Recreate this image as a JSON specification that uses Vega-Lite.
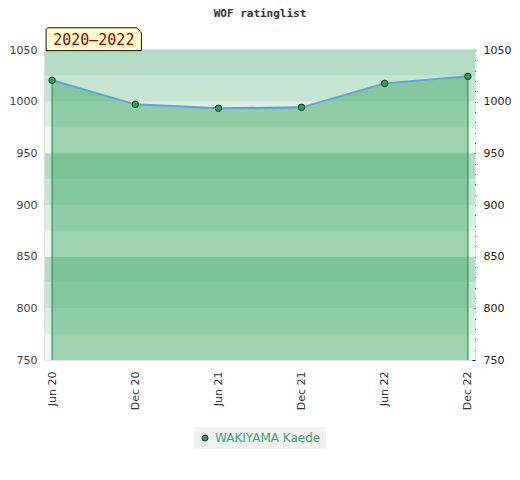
{
  "$schema": "https://vega.github.io/schema/vega-lite/v6.json",
  "width": 430,
  "height": 310,
  "autosize": {"type": "none"},
  "padding": {"left": 45, "top": 50, "right": 45, "bottom": 120},
  "background": "white",
  "title": {
    "text": "WOF ratinglist",
    "font": "DejaVu Sans Mono",
    "fontSize": 11,
    "fontWeight": "bold",
    "color": "#333333",
    "anchor": "middle",
    "offset": 7
  },
  "config": {
    "view": {"stroke": "#d6d6d6", "strokeWidth": 1.5},
    "axis": {"labelFont": "DejaVu Sans", "labelFontSize": 11, "grid": false, "domain": false, "title": null}
  },
  "datasets": {
    "bands": [
      {"lo": 750, "hi": 775, "shade": "a"},
      {"lo": 775, "hi": 800, "shade": "b"},
      {"lo": 800, "hi": 825, "shade": "c"},
      {"lo": 825, "hi": 850, "shade": "d"},
      {"lo": 850, "hi": 875, "shade": "a"},
      {"lo": 875, "hi": 900, "shade": "b"},
      {"lo": 900, "hi": 925, "shade": "c"},
      {"lo": 925, "hi": 950, "shade": "d"},
      {"lo": 950, "hi": 975, "shade": "a"},
      {"lo": 975, "hi": 1000, "shade": "b"},
      {"lo": 1000, "hi": 1025, "shade": "c"},
      {"lo": 1025, "hi": 1050, "shade": "d"}
    ],
    "ratings": [
      {"period": "Jun 20", "rating": 1020.7, "player": "WAKIYAMA Kaede"},
      {"period": "Dec 20", "rating": 997.4, "player": "WAKIYAMA Kaede"},
      {"period": "Jun 21", "rating": 993.6, "player": "WAKIYAMA Kaede"},
      {"period": "Dec 21", "rating": 994.5, "player": "WAKIYAMA Kaede"},
      {"period": "Jun 22", "rating": 1017.7, "player": "WAKIYAMA Kaede"},
      {"period": "Dec 22", "rating": 1024.5, "player": "WAKIYAMA Kaede"}
    ],
    "span": [
      {"label": "2020\u20132022"}
    ]
  },
  "resolve": {"axis": {"y": "independent"}, "scale": {"color": "independent"}},
  "layer": [
    {
      "data": {"name": "bands"},
      "mark": {"type": "rect"},
      "encoding": {
        "y": {"field": "lo", "type": "quantitative", "scale": {"domain": [750, 1050], "nice": false, "zero": false},
          "axis": {"orient": "left", "values": [750, 800, 850, 900, 950, 1000, 1050], "format": "d", "ticks": false, "labelPadding": 8, "labelColor": "#444444"}},
        "y2": {"field": "hi"},
        "color": {"field": "shade", "type": "nominal", "legend": null,
          "scale": {"domain": ["a", "b", "c", "d"], "range": ["#eff8f2", "#dcefe3", "#c7e5d3", "#b4dcc4"]}}
      }
    },
    {
      "data": {"name": "ratings"},
      "mark": {"type": "area", "color": "#37a65d", "opacity": 0.46, "clip": true},
      "encoding": {
        "x": {"field": "period", "type": "ordinal", "sort": null,
          "scale": {"type": "point", "padding": 0.085},
          "axis": {"labelAngle": 270, "ticks": false, "labelPadding": 11, "labelColor": "#333333"}},
        "y": {"field": "rating", "type": "quantitative",
          "axis": {"orient": "right", "values": [750, 760, 770, 780, 790, 800, 810, 820, 830, 840, 850, 860, 870, 880, 890, 900, 910, 920, 930, 940, 950, 960, 970, 980, 990, 1000, 1010, 1020, 1030, 1040, 1050],
            "format": "d", "offset": -3,
            "labelExpr": "datum.value % 50 === 0 ? datum.label : ''", "tickSize": 3, "tickWidth": 1, "tickColor": "#111111", "labelPadding": 8, "labelColor": "#222222"}},
        "y2": {"datum": 750}
      }
    },
    {
      "data": {"name": "ratings"},
      "transform": [{"filter": "datum.period === 'Jun 20' || datum.period === 'Dec 22'"}],
      "mark": {"type": "rule", "color": "#3a9a5c", "strokeWidth": 1.3},
      "encoding": {
        "x": {"field": "period", "type": "ordinal", "sort": null},
        "y": {"field": "rating", "type": "quantitative", "axis": null},
        "y2": {"datum": 750}
      }
    },
    {
      "data": {"name": "ratings"},
      "mark": {"type": "line", "color": "#5fa2dc", "strokeWidth": 2},
      "encoding": {
        "x": {"field": "period", "type": "ordinal", "sort": null},
        "y": {"field": "rating", "type": "quantitative", "axis": null}
      }
    },
    {
      "data": {"name": "ratings"},
      "mark": {"type": "point", "filled": true, "opacity": 1, "size": 42, "stroke": "#1a3a22", "strokeWidth": 1},
      "encoding": {
        "x": {"field": "period", "type": "ordinal", "sort": null},
        "y": {"field": "rating", "type": "quantitative", "axis": null},
        "color": {"field": "player", "type": "nominal",
          "scale": {"domain": ["WAKIYAMA Kaede"], "range": ["#2e9e5b"]},
          "legend": {"title": null, "orient": "none", "legendX": 149, "legendY": 377, "fillColor": "#f0f0f0", "padding": 5,
            "labelColor": "#3aa865", "labelFont": "DejaVu Sans", "labelFontSize": 12, "symbolSize": 36,
            "symbolStrokeColor": "#1a3a22", "symbolStrokeWidth": 1, "symbolType": "circle"}}
      }
    },
    {
      "data": {"name": "span"},
      "mark": {"type": "point", "filled": true, "opacity": 1, "clip": false, "fill": "#ffffcc", "stroke": "#111111", "strokeWidth": 1,
        "size": 9082, "shape": "M-0.97,-0.24L0.91,-0.24L1,-0.13L1,0.24L-1,0.24L-1,-0.21Z", "xOffset": 41.7, "yOffset": -10.8},
      "encoding": {
        "x": {"datum": "Jun 20", "type": "ordinal"},
        "y": {"datum": 1050, "type": "quantitative", "axis": null}
      }
    },
    {
      "data": {"name": "span"},
      "mark": {"type": "text", "clip": false, "font": "DejaVu Sans Mono", "fontSize": 15, "color": "#990000",
        "align": "center", "baseline": "middle", "xOffset": 41.7, "yOffset": -10.3},
      "encoding": {
        "x": {"datum": "Jun 20", "type": "ordinal"},
        "y": {"datum": 1050, "type": "quantitative", "axis": null},
        "text": {"field": "label"}
      }
    }
  ]
}
